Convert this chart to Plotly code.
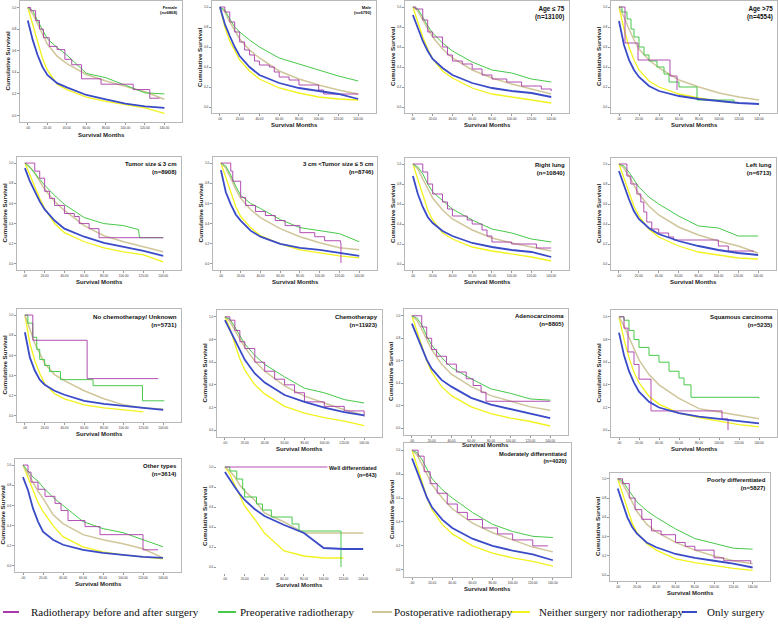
import plotly.graph_objects as go

W, H = 778, 626

MONTHS = [0, 5, 10, 15, 20, 30, 40, 60, 80, 100, 120, 140]
X_TICKS = [0, 20, 40, 60, 80, 100, 120, 140]
X_TICK_LABELS = [".00", "20.00", "40.00", "60.00", "80.00", "100.00", "120.00", "140.00"]
Y_TICKS = [0, 0.2, 0.4, 0.6, 0.8, 1.0]
Y_TICK_LABELS = ["0.0", "0.2", "0.4", "0.6", "0.8", "1.0"]
SERIES_NAMES = ["Radiotherapy before and after surgery", "Preoperative radiotherapy",
                "Postoperative radiotherapy", "Neither surgery nor radiotherapy", "Only surgery"]

# ---- Panel 1: Female
female_blue = [0.88, 0.70, 0.56, 0.45, 0.375, 0.30, 0.26, 0.19, 0.15, 0.11, 0.085, 0.07]
female_yellow = [1.0, 0.85, 0.68, 0.53, 0.42, 0.29, 0.24, 0.17, 0.13, 0.10, 0.07, 0.02]
female_beige = [1.0, 0.94, 0.85, 0.76, 0.66, 0.55, 0.48, 0.38, 0.32, 0.27, 0.22, 0.15]
female_green = [1.0, 0.97, 0.88, 0.79, 0.71, 0.63, 0.56, 0.39, 0.35, 0.28, 0.21, 0.20]
female_purple_t = [0, 3, 8, 12, 16, 22, 30, 38, 45, 55, 75, 108, 125, 135]
female_purple = [1.0, 0.97, 0.88, 0.80, 0.72, 0.64, 0.61, 0.52, 0.47, 0.34, 0.29, 0.24, 0.16, 0.16]

# ---- Panel 2: Male
male_blue = [1.0, 0.83, 0.71, 0.60, 0.51, 0.40, 0.32, 0.24, 0.19, 0.16, 0.13, 0.08]
male_yellow = [1.0, 0.80, 0.66, 0.56, 0.47, 0.36, 0.28, 0.19, 0.14, 0.10, 0.08, 0.07]
male_beige = [1.0, 0.95, 0.85, 0.77, 0.68, 0.57, 0.49, 0.36, 0.28, 0.22, 0.17, 0.13]
male_green = [1.0, 0.97, 0.88, 0.80, 0.75, 0.67, 0.60, 0.49, 0.43, 0.37, 0.31, 0.26]
male_purple_t = [0, 5, 10, 15, 20, 25, 30, 35, 40, 50, 55, 60, 70, 80, 100, 105, 140]
male_purple = [1.0, 0.95, 0.85, 0.75, 0.65, 0.57, 0.52, 0.46, 0.42, 0.40, 0.35, 0.30, 0.27, 0.22, 0.17, 0.13, 0.13]

# ---- Panel 3: Age <= 75
young_blue = [0.92, 0.78, 0.66, 0.56, 0.48, 0.39, 0.32, 0.24, 0.19, 0.16, 0.14, 0.10]
young_yellow = [1.0, 0.85, 0.70, 0.58, 0.48, 0.36, 0.29, 0.19, 0.13, 0.10, 0.07, 0.04]
young_beige = [1.0, 0.96, 0.87, 0.78, 0.70, 0.58, 0.49, 0.37, 0.29, 0.23, 0.18, 0.13]
young_green = [1.0, 0.98, 0.90, 0.81, 0.74, 0.64, 0.56, 0.45, 0.37, 0.34, 0.28, 0.25]
young_purple_t = [0, 3, 10, 15, 20, 30, 35, 40, 50, 60, 70, 80, 95, 110, 130, 140]
young_purple = [1.0, 0.98, 0.87, 0.75, 0.70, 0.60, 0.52, 0.46, 0.43, 0.38, 0.32, 0.28, 0.25, 0.21, 0.18, 0.16]

# ---- Panel 4: Age > 75
old_blue = [0.86, 0.62, 0.47, 0.37, 0.30, 0.21, 0.16, 0.11, 0.08, 0.06, 0.04, 0.03]
old_yellow = [1.0, 0.78, 0.60, 0.47, 0.37, 0.26, 0.20, 0.13, 0.09, 0.06, 0.04, None]
old_beige = [1.0, 0.90, 0.78, 0.67, 0.58, 0.47, 0.39, 0.27, 0.20, 0.14, 0.10, 0.07]
old_green_t = [0, 3, 8, 12, 15, 20, 25, 30, 38, 45, 50, 60, 78, 115]
old_green = [1.0, 0.95, 0.88, 0.78, 0.70, 0.60, 0.52, 0.46, 0.40, 0.33, 0.25, 0.20, 0.07, 0.05]
old_purple_t = [0, 6, 19, 51, 58]
old_purple = [1.0, 0.64, 0.47, 0.31, 0.17]

# ---- Panel 5: Tumor size <= 3 cm
small_blue = [0.95, 0.82, 0.72, 0.62, 0.54, 0.43, 0.35, 0.27, 0.21, 0.17, 0.13, 0.08]
small_yellow = [1.0, 0.88, 0.76, 0.65, 0.55, 0.40, 0.31, 0.22, 0.16, 0.12, 0.09, 0.02]
small_beige = [1.0, 0.96, 0.90, 0.82, 0.74, 0.62, 0.53, 0.38, 0.28, 0.22, 0.17, 0.12]
small_green_t = [0, 5, 10, 15, 20, 30, 40, 60, 80, 100, 115, 116, 140]
small_green = [1.0, 0.96, 0.90, 0.84, 0.78, 0.68, 0.59, 0.46, 0.40, 0.38, 0.34, 0.26, 0.26]
small_purple_t = [0, 8, 10, 15, 20, 25, 30, 40, 50, 55, 65, 75, 140]
small_purple = [1.0, 1.0, 0.92, 0.85, 0.72, 0.65, 0.58, 0.50, 0.47, 0.40, 0.35, 0.26, 0.26]

# ---- Panel 6: 3 cm < Tumor size <= 5 cm
mid_blue = [0.93, 0.71, 0.59, 0.49, 0.43, 0.33, 0.27, 0.20, 0.16, 0.14, 0.11, 0.08]
mid_yellow = [1.0, 0.85, 0.70, 0.57, 0.47, 0.36, 0.28, 0.20, 0.14, 0.11, 0.08, 0.06]
mid_beige = [1.0, 0.95, 0.85, 0.74, 0.65, 0.54, 0.46, 0.35, 0.27, 0.21, 0.16, 0.14]
mid_green = [1.0, 0.97, 0.88, 0.77, 0.68, 0.60, 0.55, 0.44, 0.36, 0.33, 0.30, 0.22]
mid_purple_t = [0, 5, 10, 12, 20, 25, 35, 45, 55, 65, 80, 95, 105, 121, 121.5]
mid_purple = [1.0, 1.0, 0.92, 0.82, 0.66, 0.58, 0.52, 0.48, 0.43, 0.38, 0.31, 0.27, 0.23, 0.21, 0.01]

# ---- Panel 7: Right lung
right_blue = [0.88, 0.70, 0.57, 0.47, 0.41, 0.33, 0.28, 0.21, 0.17, 0.14, 0.12, 0.07]
right_yellow = [1.0, 0.85, 0.68, 0.54, 0.44, 0.31, 0.25, 0.17, 0.13, 0.10, 0.07, 0.03]
right_beige = [1.0, 0.95, 0.85, 0.75, 0.66, 0.54, 0.45, 0.34, 0.26, 0.21, 0.17, 0.13]
right_green = [1.0, 0.97, 0.90, 0.80, 0.72, 0.63, 0.55, 0.44, 0.35, 0.31, 0.25, 0.22]
right_purple_t = [0, 4, 10, 15, 20, 30, 35, 40, 55, 60, 70, 75, 80, 100, 125, 140]
right_purple = [1.0, 1.0, 0.92, 0.80, 0.70, 0.62, 0.55, 0.48, 0.44, 0.40, 0.34, 0.28, 0.22, 0.20, 0.16, 0.16]

# ---- Panel 8: Left lung
left_blue = [0.93, 0.78, 0.65, 0.53, 0.45, 0.36, 0.30, 0.23, 0.18, 0.14, 0.11, 0.09]
left_yellow = [1.0, 0.87, 0.72, 0.58, 0.48, 0.35, 0.27, 0.18, 0.12, 0.09, 0.06, 0.05]
left_beige = [1.0, 0.96, 0.88, 0.79, 0.70, 0.58, 0.49, 0.37, 0.29, 0.23, 0.18, 0.11]
left_green = [1.0, 0.98, 0.92, 0.84, 0.77, 0.67, 0.60, 0.48, 0.38, 0.36, 0.28, 0.28]
left_purple_t = [0, 5, 8, 12, 18, 22, 25, 28, 33, 40, 50, 55, 90, 100, 110, 135]
left_purple = [1.0, 1.0, 0.88, 0.80, 0.70, 0.62, 0.52, 0.42, 0.35, 0.31, 0.27, 0.24, 0.24, 0.18, 0.13, 0.12]

# ---- Panel 9: No chemotherapy / Unknown
nochemo_blue = [0.83, 0.58, 0.45, 0.36, 0.31, 0.25, 0.21, 0.15, 0.12, 0.10, 0.08, 0.06]
nochemo_yellow = [1.0, 0.72, 0.55, 0.42, 0.32, 0.22, 0.17, 0.11, 0.08, 0.06, 0.04, None]
nochemo_beige = [1.0, 0.85, 0.72, 0.62, 0.52, 0.41, 0.35, 0.25, 0.17, 0.11, 0.08, 0.07]
nochemo_green_t = [0, 3, 8, 12, 15, 20, 25, 36, 69, 119, 141]
nochemo_green = [1.0, 0.92, 0.78, 0.66, 0.56, 0.50, 0.44, 0.36, 0.30, 0.15, 0.15]
nochemo_purple_t = [0, 8, 63, 135]
nochemo_purple = [1.0, 0.75, 0.37, 0.37]

# ---- Panel 10: Chemotherapy
chemo_blue = [0.97, 0.88, 0.79, 0.70, 0.62, 0.50, 0.42, 0.31, 0.25, 0.20, 0.16, 0.13]
chemo_yellow = [1.0, 0.90, 0.76, 0.63, 0.53, 0.40, 0.32, 0.21, 0.15, 0.11, 0.08, 0.04]
chemo_beige = [1.0, 0.96, 0.88, 0.80, 0.73, 0.61, 0.52, 0.39, 0.30, 0.24, 0.18, 0.13]
chemo_green = [1.0, 0.98, 0.91, 0.83, 0.76, 0.66, 0.58, 0.47, 0.37, 0.33, 0.27, 0.24]
chemo_purple_t = [0, 5, 10, 15, 20, 30, 40, 50, 60, 70, 80, 100, 120, 140]
chemo_purple = [1.0, 0.97, 0.88, 0.78, 0.72, 0.60, 0.52, 0.45, 0.40, 0.33, 0.25, 0.21, 0.17, 0.12]

# ---- Panel 11: Adenocarcinoma
adeno_blue = [0.93, 0.82, 0.71, 0.61, 0.53, 0.43, 0.37, 0.27, 0.21, 0.17, 0.13, 0.09]
adeno_yellow = [1.0, 0.86, 0.72, 0.60, 0.50, 0.37, 0.29, 0.19, 0.13, 0.09, 0.06, 0.02]
adeno_beige = [1.0, 0.96, 0.88, 0.79, 0.70, 0.57, 0.48, 0.37, 0.29, 0.24, 0.19, 0.16]
adeno_green = [1.0, 0.98, 0.92, 0.82, 0.74, 0.63, 0.54, 0.44, 0.35, 0.31, 0.26, 0.25]
adeno_purple_t = [0, 8, 10, 15, 20, 25, 35, 45, 55, 62, 70, 75, 140]
adeno_purple = [1.0, 1.0, 0.90, 0.80, 0.70, 0.64, 0.57, 0.50, 0.44, 0.38, 0.32, 0.24, 0.24]

# ---- Panel 12: Squamous carcinoma
squam_blue = [0.86, 0.66, 0.52, 0.42, 0.34, 0.25, 0.20, 0.15, 0.12, 0.10, 0.08, 0.06]
squam_yellow = [1.0, 0.80, 0.64, 0.51, 0.42, 0.30, 0.23, 0.15, 0.11, 0.08, 0.05, 0.03]
squam_beige = [1.0, 0.92, 0.82, 0.72, 0.62, 0.49, 0.40, 0.28, 0.19, 0.16, 0.13, 0.10]
squam_green_t = [0, 5, 10, 15, 20, 30, 40, 50, 60, 65, 72, 140]
squam_green = [1.0, 0.97, 0.88, 0.80, 0.73, 0.66, 0.60, 0.52, 0.46, 0.40, 0.29, 0.28]
squam_purple_t = [0, 5, 9, 15, 20, 32, 103, 109]
squam_purple = [1.0, 0.90, 0.69, 0.58, 0.45, 0.17, 0.10, 0.0]

# ---- Panel 13: Other types
other_blue = [0.88, 0.75, 0.57, 0.44, 0.34, 0.26, 0.21, 0.16, 0.13, 0.11, 0.09, 0.08]
other_yellow = [1.0, 0.88, 0.75, 0.63, 0.54, 0.40, 0.29, 0.19, 0.14, 0.11, 0.09, 0.07]
other_beige = [1.0, 0.92, 0.83, 0.74, 0.67, 0.51, 0.42, 0.31, 0.26, 0.22, 0.17, 0.08]
other_green = [1.0, 0.94, 0.88, 0.84, 0.78, 0.68, 0.60, 0.44, 0.37, 0.33, 0.26, 0.19]
other_purple_t = [0, 5, 8, 15, 22, 32, 38, 45, 62, 77, 120, 135]
other_purple = [1.0, 0.93, 0.83, 0.76, 0.69, 0.62, 0.55, 0.45, 0.39, 0.31, 0.16, 0.16]

# ---- Panel 14: Well differentiated
well_blue = [0.95, 0.87, 0.80, 0.73, 0.67, 0.58, 0.51, 0.42, 0.34, 0.19, 0.18, 0.18]
well_yellow = [1.0, 0.93, 0.82, 0.72, 0.61, 0.48, 0.34, 0.16, 0.11, 0.09, 0.09, None]
well_beige = [1.0, 0.96, 0.90, 0.82, 0.76, 0.67, 0.54, 0.45, 0.34, 0.34, 0.34, 0.34]
well_green_t = [0, 5, 12, 18, 20, 32, 38, 47, 68, 75, 117, 117.5]
well_green = [1.0, 0.96, 0.88, 0.78, 0.70, 0.63, 0.57, 0.50, 0.43, 0.36, 0.36, 0.0]
well_purple_t = [0, 143]
well_purple = [1.0, 1.0]

# ---- Panel 15: Moderately differentiated
moder_blue = [0.93, 0.82, 0.70, 0.60, 0.52, 0.42, 0.35, 0.26, 0.20, 0.16, 0.13, 0.08]
moder_yellow = [1.0, 0.86, 0.72, 0.60, 0.50, 0.38, 0.30, 0.20, 0.14, 0.10, 0.07, 0.03]
moder_beige = [1.0, 0.96, 0.88, 0.79, 0.71, 0.60, 0.51, 0.39, 0.31, 0.25, 0.19, 0.15]
moder_green = [1.0, 0.98, 0.92, 0.84, 0.76, 0.67, 0.60, 0.48, 0.38, 0.32, 0.28, 0.27]
moder_purple_t = [0, 6, 12, 18, 25, 35, 45, 55, 70, 85, 100, 120, 135]
moder_purple = [1.0, 0.95, 0.82, 0.72, 0.64, 0.55, 0.48, 0.42, 0.35, 0.30, 0.25, 0.20, 0.20]

# ---- Panel 16: Poorly differentiated
poor_blue = [0.90, 0.74, 0.60, 0.50, 0.43, 0.34, 0.29, 0.22, 0.18, 0.15, 0.12, 0.08]
poor_yellow = [1.0, 0.85, 0.68, 0.54, 0.44, 0.33, 0.26, 0.17, 0.13, 0.10, 0.07, 0.05]
poor_beige = [1.0, 0.95, 0.86, 0.76, 0.66, 0.53, 0.45, 0.34, 0.26, 0.20, 0.15, 0.12]
poor_green = [1.0, 0.98, 0.90, 0.83, 0.76, 0.67, 0.60, 0.48, 0.38, 0.33, 0.28, 0.27]
poor_purple_t = [0, 5, 12, 18, 25, 35, 45, 60, 70, 80, 100, 110, 138]
poor_purple = [1.0, 0.95, 0.80, 0.68, 0.58, 0.46, 0.42, 0.34, 0.30, 0.26, 0.18, 0.15, 0.12]

PANEL_TITLES = ["Female", "Male", "Age \u2264 75", "Age >75",
                "Tumor size \u2264 3 cm", "3 cm <Tumor size \u2264 5 cm", "Right lung", "Left lung",
                "No chemotherapy/ Unknown", "Chemotherapy", "Adenocarcinoma", "Squamous carcinoma",
                "Other types", "Well differentiated", "Moderately differentiated", "Poorly differentiated"]
PANEL_N = ["(n=6868)", "(n=6790)", "(n=13100)", "(n=4554)",
           "(n=8908)", "(n=8746)", "(n=10840)", "(n=6713)",
           "(n=5731)", "(n=11923)", "(n=8805)", "(n=5235)",
           "(n=3614)", "(n=643)", "(n=4020)", "(n=5827)"]

panels = [
    (female_blue, female_yellow, female_beige, MONTHS, female_green, female_purple_t, female_purple),
    (male_blue, male_yellow, male_beige, MONTHS, male_green, male_purple_t, male_purple),
    (young_blue, young_yellow, young_beige, MONTHS, young_green, young_purple_t, young_purple),
    (old_blue, old_yellow, old_beige, old_green_t, old_green, old_purple_t, old_purple),
    (small_blue, small_yellow, small_beige, small_green_t, small_green, small_purple_t, small_purple),
    (mid_blue, mid_yellow, mid_beige, MONTHS, mid_green, mid_purple_t, mid_purple),
    (right_blue, right_yellow, right_beige, MONTHS, right_green, right_purple_t, right_purple),
    (left_blue, left_yellow, left_beige, MONTHS, left_green, left_purple_t, left_purple),
    (nochemo_blue, nochemo_yellow, nochemo_beige, nochemo_green_t, nochemo_green, nochemo_purple_t, nochemo_purple),
    (chemo_blue, chemo_yellow, chemo_beige, MONTHS, chemo_green, chemo_purple_t, chemo_purple),
    (adeno_blue, adeno_yellow, adeno_beige, MONTHS, adeno_green, adeno_purple_t, adeno_purple),
    (squam_blue, squam_yellow, squam_beige, squam_green_t, squam_green, squam_purple_t, squam_purple),
    (other_blue, other_yellow, other_beige, MONTHS, other_green, other_purple_t, other_purple),
    (well_blue, well_yellow, well_beige, well_green_t, well_green, well_purple_t, well_purple),
    (moder_blue, moder_yellow, moder_beige, MONTHS, moder_green, moder_purple_t, moder_purple),
    (poor_blue, poor_yellow, poor_beige, MONTHS, poor_green, poor_purple_t, poor_purple),
]
STEP_GREEN = {3, 8, 11, 13}

# plot-area boxes in pixels: left, right, top, bottom
BOXES = [
    (20, 182, 1, 122), (212, 376, 1, 113), (405, 569, 1, 113), (611, 777, 1, 113),
    (17, 181, 157, 270), (213, 377, 157, 270), (405, 569, 158, 270), (611, 776, 158, 270),
    (17, 181, 309, 422), (217, 382, 310, 437), (404, 568, 309, 435), (611, 777, 310, 437),
    (15, 181, 459, 572), (217, 381, 461, 573), (404, 571, 443, 577), (610, 770, 473, 581),
]
TITLE_SIZES = [4.2, 4.2, 6.3, 6.3, 6, 6, 6, 6, 6.2, 6, 6, 6, 6, 5.5, 5.7, 6]
TITLE_DY = [2, 2, 2, 2, 2, 2, 2, 2, 2, 2, 2, 2, 2, 2, 6, 2]
XLABEL_DY = [13, 12, 12, 12, 12, 12, 12, 12, 12, 12, 10, 12, 12, 12, 12, 12]

C_PURPLE = "#A93AA8"
C_GREEN = "#48C94A"
C_BEIGE = "#CFC69A"
C_YELLOW = "#F2F21E"
C_BLUE = "#3A4BC8"

FONT = "Liberation Sans, Arial, sans-serif"

fig = go.Figure()
layout = dict(width=W, height=H, margin=dict(l=0, r=0, t=0, b=0),
              paper_bgcolor="white", plot_bgcolor="white", showlegend=False)
annotations = []
shapes = []

for i, (p, box) in enumerate(zip(panels, BOXES)):
    blue, yellow, beige, gt, green, pt, purple = p
    k = "" if i == 0 else str(i + 1)
    xa, ya = "x" + k, "y" + k
    left, right, top, bottom = box
    border = i != 13
    layout["xaxis" + k] = dict(
        domain=[left / W, right / W], range=[-8, 158], anchor=ya,
        tickvals=X_TICKS, ticktext=X_TICK_LABELS, tickfont=dict(size=3.2, family=FONT, color="#333"),
        ticks="outside", ticklen=2, tickcolor="#999", showgrid=False, zeroline=False,
        showline=border, mirror=border, linecolor="#B8B8B8", linewidth=1)
    layout["yaxis" + k] = dict(
        domain=[1 - bottom / H, 1 - top / H], range=[-0.06, 1.06], anchor=xa,
        tickvals=Y_TICKS, ticktext=Y_TICK_LABELS, tickfont=dict(size=3.2, family=FONT, color="#333"),
        ticks="outside", ticklen=2, tickcolor="#999", showgrid=False, zeroline=False,
        showline=border, mirror=border, linecolor="#B8B8B8", linewidth=1)

    fig.add_trace(go.Scatter(x=MONTHS, y=yellow, mode="lines", xaxis=xa, yaxis=ya,
                             line=dict(color=C_YELLOW, width=1.3), name=SERIES_NAMES[3]))
    fig.add_trace(go.Scatter(x=MONTHS, y=beige, mode="lines", xaxis=xa, yaxis=ya,
                             line=dict(color=C_BEIGE, width=1.5), name=SERIES_NAMES[2]))
    fig.add_trace(go.Scatter(x=gt, y=green, mode="lines", xaxis=xa, yaxis=ya,
                             line=dict(color=C_GREEN, width=1.0, shape="hv" if i in STEP_GREEN else "linear"),
                             name=SERIES_NAMES[1]))
    fig.add_trace(go.Scatter(x=pt, y=purple, mode="lines", xaxis=xa, yaxis=ya,
                             line=dict(color=C_PURPLE, width=0.9, shape="hv"), name=SERIES_NAMES[0]))
    fig.add_trace(go.Scatter(x=MONTHS, y=blue, mode="lines", xaxis=xa, yaxis=ya,
                             line=dict(color=C_BLUE, width=1.8), name=SERIES_NAMES[4]))

    # panel title
    annotations.append(dict(
        xref="paper", yref="paper", x=(right - 2) / W, y=1 - (top + TITLE_DY[i]) / H,
        xanchor="right", yanchor="top", align="right", showarrow=False,
        bgcolor="white" if i == 13 else None,
        text="<b>%s<br>%s</b>" % (PANEL_TITLES[i], PANEL_N[i]),
        font=dict(size=TITLE_SIZES[i], family=FONT, color="#111")))
    # axis titles
    annotations.append(dict(
        xref="paper", yref="paper", x=(left - 13) / W, y=1 - ((top + bottom) / 2) / H,
        xanchor="center", yanchor="middle", textangle=-90, showarrow=False,
        text="<b>Cumulative Survival</b>", font=dict(size=6.2, family=FONT, color="#222")))
    annotations.append(dict(
        xref="paper", yref="paper", x=((left + right) / 2) / W, y=1 - (bottom + XLABEL_DY[i]) / H,
        xanchor="center", yanchor="middle", showarrow=False,
        text="<b>Survival Months</b>", font=dict(size=6, family=FONT, color="#222")))

# bottom legend
LEG_COLORS = [C_PURPLE, C_GREEN, C_BEIGE, C_YELLOW, C_BLUE]
LEG_LINE_X = [(3, 19), (218, 236), (372, 392), (511, 530), (682, 697)]
LEG_TEXT_X = [29, 238, 392, 537, 705]
LEG_Y = 612
for name, col, (x0, x1), tx in zip(SERIES_NAMES, LEG_COLORS, LEG_LINE_X, LEG_TEXT_X):
    shapes.append(dict(type="line", xref="paper", yref="paper",
                       x0=x0 / W, x1=x1 / W, y0=1 - LEG_Y / H, y1=1 - LEG_Y / H,
                       line=dict(color=col, width=2)))
    annotations.append(dict(xref="paper", yref="paper", x=tx / W, y=1 - LEG_Y / H,
                            xanchor="left", yanchor="middle", showarrow=False, text=name,
                            font=dict(size=11, family="Liberation Serif, Times New Roman, serif",
                                      color="#111")))

layout["annotations"] = annotations
layout["shapes"] = shapes
fig.update_layout(**layout)
fig.write_html("out.html", config={"displayModeBar": False, "staticPlot": True},
               post_script="document.body.style.margin='0';document.body.style.overflow='hidden';")
